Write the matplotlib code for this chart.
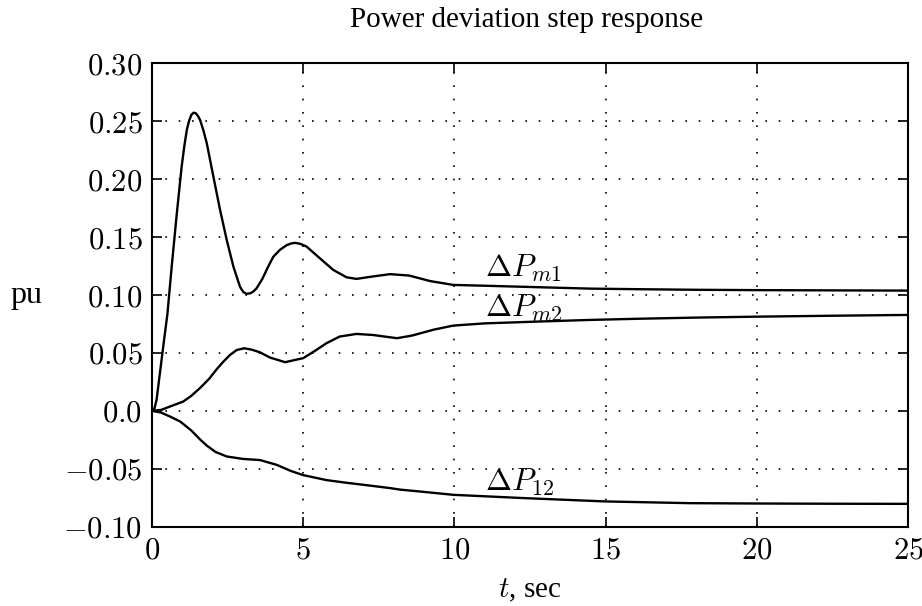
import matplotlib
matplotlib.use("Agg")
import matplotlib.pyplot as plt

plt.rcParams['mathtext.fontset'] = 'cm'
plt.rcParams['font.family'] = ['Liberation Serif', 'DejaVu Serif']

# values
t_m1 = [0, 0.08, 0.15, 0.26, 0.37, 0.51, 0.65, 0.81, 0.98, 1.07, 1.15, 1.22,
        1.3, 1.37, 1.45, 1.52, 1.59, 1.7, 1.81, 2.03, 2.25, 2.47, 2.69, 2.91,
        3.02, 3.13, 3.25, 3.35, 3.46, 3.65, 3.84, 4.01, 4.23, 4.45, 4.6, 4.73,
        4.9, 5.11, 5.55, 5.99, 6.43, 6.76, 7.3, 7.87, 8.5, 9.2, 9.96, 11,
        12.8, 14.5, 16.1, 18, 20, 22.5, 25]
p_m1 = [0, 0.002, 0.0095, 0.0325, 0.0555, 0.084, 0.1245, 0.168, 0.211, 0.229,
        0.2425, 0.25, 0.2555, 0.2574, 0.2568, 0.2545, 0.251, 0.242, 0.231,
        0.202, 0.1734, 0.1475, 0.1245, 0.107, 0.1025, 0.101, 0.1015, 0.103,
        0.1059, 0.114, 0.1245, 0.133, 0.139, 0.143, 0.1445, 0.145, 0.1442,
        0.1418, 0.1317, 0.1217, 0.1153, 0.1139, 0.116, 0.118, 0.1168, 0.112,
        0.1087, 0.108, 0.1067, 0.1055, 0.105, 0.1045, 0.1042, 0.104, 0.1038]

t_m2 = [0, 0.3, 0.59, 1.03, 1.3, 1.6, 1.9, 2.14, 2.36, 2.58, 2.8, 3.05, 3.3,
        3.57, 3.9, 4.4, 5.0, 5.4, 5.77, 6.2, 6.76, 7.3, 8.1, 8.6, 9.3, 9.96,
        11, 12.8, 14.5, 16.1, 18, 20, 22.5, 25]
p_m2 = [0, 0.0008, 0.0037, 0.008, 0.013, 0.020, 0.028, 0.036, 0.0425, 0.0483,
        0.0525, 0.054, 0.0528, 0.0505, 0.046, 0.042, 0.0455, 0.052, 0.0584,
        0.0641, 0.0664, 0.0655, 0.0627, 0.065, 0.070, 0.0736, 0.0755, 0.0771,
        0.0785, 0.0795, 0.0805, 0.0813, 0.0821, 0.0828]

t_12 = [0, 0.3, 0.6, 0.93, 1.3, 1.6, 1.81, 2.1, 2.47, 3.0, 3.57, 4.12, 4.6,
        5.0, 5.77, 6.4, 7.1, 7.87, 8.2, 9.0, 9.96, 12.27, 14.97, 17.78, 20,
        22.5, 25]
p_12 = [0, -0.0015, -0.005, -0.0092, -0.017, -0.025, -0.030, -0.0355,
        -0.0394, -0.0415, -0.0425, -0.0466, -0.052, -0.0555, -0.0598, -0.062,
        -0.0642, -0.0667, -0.068, -0.070, -0.0725, -0.0753, -0.0782, -0.0797,
        -0.0800, -0.0802, -0.0803]

curve_names = [r'$\Delta P_{m1}$', r'$\Delta P_{m2}$', r'$\Delta P_{12}$']
label_t = [11.0, 11.0, 11.0]
label_y = [0.116, 0.081, -0.069]

xticks = [0, 5, 10, 15, 20, 25]
xtick_labels = ['$0$', '$5$', '$10$', '$15$', '$20$', '$25$']
yticks = [-0.10, -0.05, 0.0, 0.05, 0.10, 0.15, 0.20, 0.25, 0.30]
ytick_labels = ['$-0.10$', '$-0.05$', '$0.0$', '$0.05$', '$0.10$', '$0.15$',
                '$0.20$', '$0.25$', '$0.30$']

fig = plt.figure(figsize=(9.22, 6.06), dpi=100)
ax = fig.add_axes([0.1649, 0.1309, 0.82, 0.7646])

for tt, pp in [(t_m1, p_m1), (t_m2, p_m2), (t_12, p_12)]:
    ax.plot(tt, pp, color='black', lw=1.7, solid_joinstyle='round')

for name, lx, ly in zip(curve_names, label_t, label_y):
    ax.text(lx, ly, name, fontsize=22.5, ha='left', va='baseline')

ax.set_xlim(0, 25)
ax.set_ylim(-0.10, 0.30)
ax.set_xticks(xticks)
ax.set_xticklabels(xtick_labels, fontsize=22)
ax.set_yticks(yticks)
ax.set_yticklabels(ytick_labels, fontsize=22)
ax.tick_params(direction='in', top=True, right=True, length=7, width=1.2)
ax.tick_params(axis='y', pad=7)
ax.tick_params(axis='x', pad=7)
ax.grid(True, color='black', linestyle=(0, (1, 7)), linewidth=1.2)
for s in ax.spines.values():
    s.set_linewidth(1.5)

ax.set_ylabel('pu', rotation=0, fontsize=23, va='center', ha='center')
ax.yaxis.set_label_coords(-0.166, 0.5)
fig.text(527 / 922, 1 - 20 / 606, 'Power deviation step response',
         fontsize=21, ha='center', va='center')
fig.text(530 / 922, 1 - 590 / 606, r'$t$, sec', fontsize=21,
         ha='center', va='center')

fig.savefig('out.png', dpi=100)
